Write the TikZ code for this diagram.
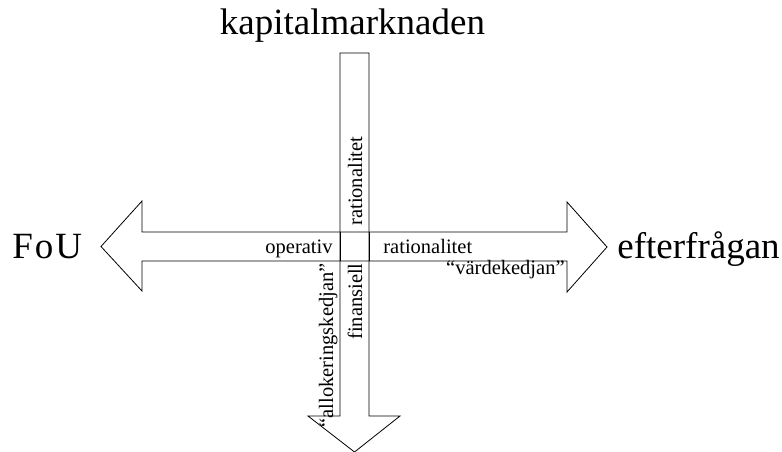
\documentclass[tikz,border=0pt]{standalone}
\usepackage{fontspec}
\setmainfont{Liberation Serif}
\begin{document}
\begin{tikzpicture}[x=1pt, y=1pt, line width=0.8pt, line join=miter,
    big/.style={font=\fontsize{37}{40}\selectfont, inner sep=0pt},
    small/.style={font=\fontsize{20.5}{24}\selectfont, inner sep=0pt}]
    \useasboundingbox (0,-452) rectangle (782,0);
    % vertical arrow, pointing down
    \draw (340,-53) -- (369,-53) -- (369,-416) -- (400,-416) -- (354.5,-452)
        -- (308,-416) -- (340,-416) -- cycle;
    % horizontal double arrow
    \draw (142,-232) -- (567,-232) -- (567,-202) -- (607,-247) -- (567,-292)
        -- (567,-261) -- (142,-261) -- (142,-291) -- (101,-246.5) -- (142,-201) -- cycle;
    % inner lines of the crossing
    \draw (340,-232) -- (340,-261);
    \draw (369,-232) -- (369,-261);
    % end labels
    \node[big, anchor=base] (kap) at (352.5,-35) {kapitalmarknaden};
    \node[big, anchor=base west] (eft) at (617,-258) {efterfrågan};
    \node[big, anchor=base west] (fou) at (12,-258) {F\kern2pt o\kern2pt U};
    % labels on the bars
    \node[small, anchor=base east] (op) at (333,-253) {operativ};
    \node[small, anchor=base west] (rath) at (383,-253) {rationalitet};
    \node[small, anchor=base east] (vard) at (565,-274) {“värdekedjan”};
    \node[small, rotate=90, anchor=base west] (ratv) at (362,-226) {rationalitet};
    \node[small, rotate=90, anchor=base east] (fin) at (362,-263) {finansiell};
    \node[small, rotate=90, anchor=base east] (allo) at (333,-263) {“allokeringskedjan”};
\end{tikzpicture}
\end{document}
